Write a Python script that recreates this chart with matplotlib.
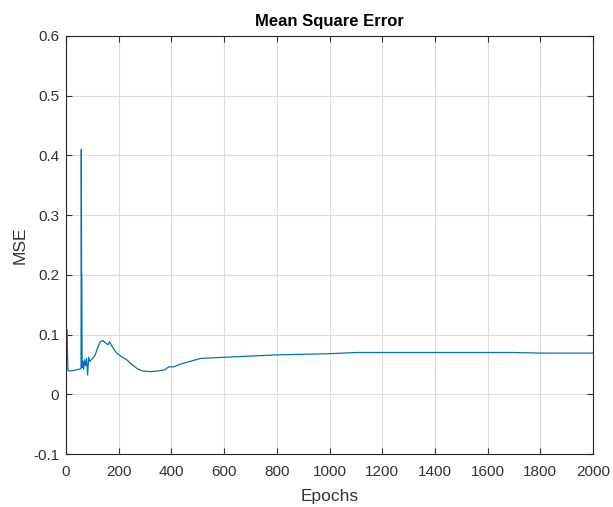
import matplotlib
matplotlib.use("Agg")
import matplotlib.pyplot as plt

plt.rcParams['font.family'] = ['Liberation Sans', 'DejaVu Sans']

# values
epochs = [4, 7, 12, 30, 50, 57, 58, 59, 60, 61, 64, 67, 70, 74, 78, 82, 86, 90,
          100, 110, 120, 130, 140, 150, 160, 165, 175, 190, 210, 230, 250, 270,
          290, 320, 350, 375, 390, 410, 430, 470, 510, 550, 600, 700, 800, 900,
          1000, 1100, 1200, 1400, 1600, 1700, 1800, 2000]
mse = [0.108, 0.040, 0.039, 0.040, 0.042, 0.043, 0.410, 0.200, 0.200, 0.045,
       0.055, 0.042, 0.058, 0.048, 0.060, 0.032, 0.062, 0.055,
       0.060, 0.065, 0.078, 0.088, 0.090, 0.086, 0.083, 0.088, 0.080, 0.070,
       0.063, 0.058, 0.050, 0.043, 0.039, 0.038, 0.039, 0.041, 0.046, 0.046,
       0.050, 0.055, 0.060, 0.061, 0.062, 0.064, 0.066, 0.067,
       0.068, 0.070, 0.070, 0.070, 0.070, 0.070, 0.069, 0.069]

xticks = list(range(0, 2001, 200))
yticks = [-0.1, 0, 0.1, 0.2, 0.3, 0.4, 0.5, 0.6]
ylabels = ["-0.1", "0", "0.1", "0.2", "0.3", "0.4", "0.5", "0.6"]

fig = plt.figure(figsize=(6.13, 5.07), dpi=100)
ax = fig.add_axes([0.1077, 0.1045, 0.8597, 0.8245])

ax.plot(epochs, mse, color="#0072BD", linewidth=0.9)

ax.set_xlim(0, 2000)
ax.set_ylim(-0.1, 0.6)
ax.set_xticks(xticks)
ax.set_yticks(yticks)
ax.set_yticklabels(ylabels)
ax.grid(True, color="#dcdcdc", linewidth=0.8)
ax.set_axisbelow(True)
ax.tick_params(direction="in", labelsize=11, colors="#333333", length=4,
               top=True, right=True)
ax.tick_params(axis="x", pad=8)
ax.tick_params(axis="y", pad=5)
for s in ax.spines.values():
    s.set_color("#262626")
    s.set_linewidth(0.8)

ax.set_title("Mean Square Error", fontsize=12, fontweight="bold", pad=7)
ax.set_xlabel("Epochs", fontsize=12.5, color="#333333", labelpad=7)
ax.set_ylabel("MSE", fontsize=12.5, color="#333333", labelpad=4)

fig.savefig("out.png", dpi=100)
